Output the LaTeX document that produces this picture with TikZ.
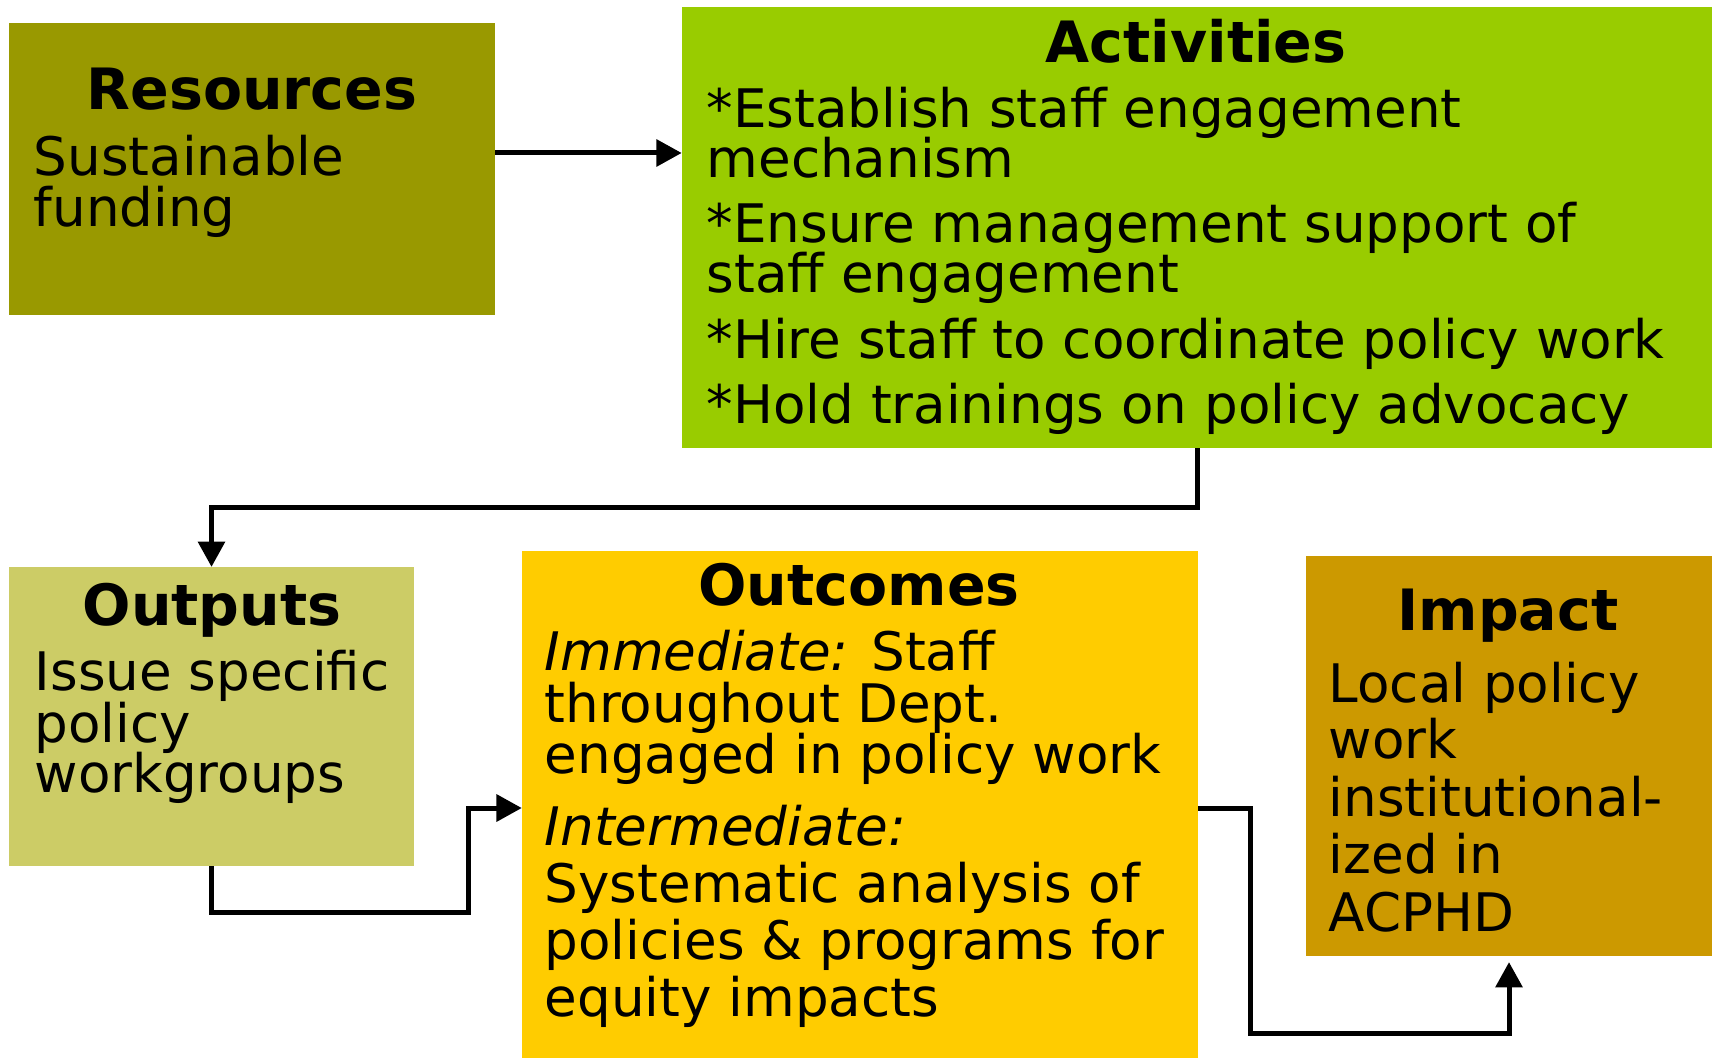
\documentclass[tikz,border=0pt]{standalone}
\usepackage{fontspec}
\setmainfont{DejaVu Sans}
\usetikzlibrary{arrows.meta}
\definecolor{rescolor}{HTML}{999900}
\definecolor{actcolor}{HTML}{99CC00}
\definecolor{outpcolor}{HTML}{CCCC66}
\definecolor{outccolor}{HTML}{FFCC00}
\definecolor{impcolor}{HTML}{CC9900}

\begin{document}
\begin{tikzpicture}[x=0.01cm, y=-0.01cm,
		box/.style={inner sep=0pt, outer sep=0pt},
		title/.style={anchor=base, inner sep=0pt, font=\fontsize{16.2}{16.2}\selectfont\bfseries},
		body/.style={anchor=base west, inner sep=0pt, font=\fontsize{15.1}{15.1}\selectfont},
		arr/.style={-{Triangle[length=7.2pt, width=7.5pt]}, line width=1.42pt}]
		\useasboundingbox (0,0) rectangle (1713,1058);
		\foreach \name/\col/\x/\y/\bw/\bh in {%
			res/rescolor/252/169/4.86cm/2.92cm,
			act/actcolor/1197/227.5/10.30cm/4.41cm,
			outp/outpcolor/211.5/716.5/4.05cm/2.99cm,
			outc/outccolor/860/804.5/6.76cm/5.07cm,
			imp/impcolor/1509/756/4.06cm/4.00cm}%
		{
			\node[box, fill=\col, minimum width=\bw, minimum height=\bh] (\name) at (\x,\y) {};
		};
		\foreach \name/\x/\y/\txt in {%
			res/252/110/Resources,
			act/1196/63/Activities,
			outp/212/625/Outputs,
			outc/859/605/Outcomes,
			imp/1508/630/Impact}%
		{
			\node[title] (\name-title) at (\x,\y) {\txt};
		};
		\foreach \name/\x/\y/\txt [count=\n] in {%
			res/33/176/Sustainable,
			res/33/227/funding,
			act/706/128/*Establish staff engagement,
			act/706/178/mechanism,
			act/706/243/*Ensure management support of,
			act/706/293/staff engagement,
			act/706/358/*Hire staff to coordinate policy work,
			act/706/423/*Hold trainings on policy advocacy,
			outp/34/690/Issue specific,
			outp/34/742/policy,
			outp/34/792/workgroups,
			outc/544/670/{\textit{Immediate:} Staff},
			outc/544/722/throughout Dept.,
			outc/544/773/engaged in policy work,
			outc/544/845/{\textit{Intermediate:}},
			outc/544/902/Systematic analysis of,
			outc/544/959/{policies \& programs for},
			outc/544/1016/equity impacts,
			imp/1328/702/Local policy,
			imp/1328/758/work,
			imp/1328/816/institutional-,
			imp/1328/873/ized in,
			imp/1328/931/ACPHD}%
		{
			\node[body] (\name-\n) at (\x,\y) {\txt};
		};
		\draw[arr] (res.east |- 0,153) -- (act.west |- 0,153);
		\draw[arr] (act.south) -- (act.south |- 0,507) -| (outp.north);
		\draw[arr] (outp.south) |- (468,912) |- (outc.west |- 0,808);
		\draw[arr, shorten >=1.7pt] (outc.east |- 0,808) -| (1250,1033) -| (imp.south);
	\end{tikzpicture}
\end{document}
